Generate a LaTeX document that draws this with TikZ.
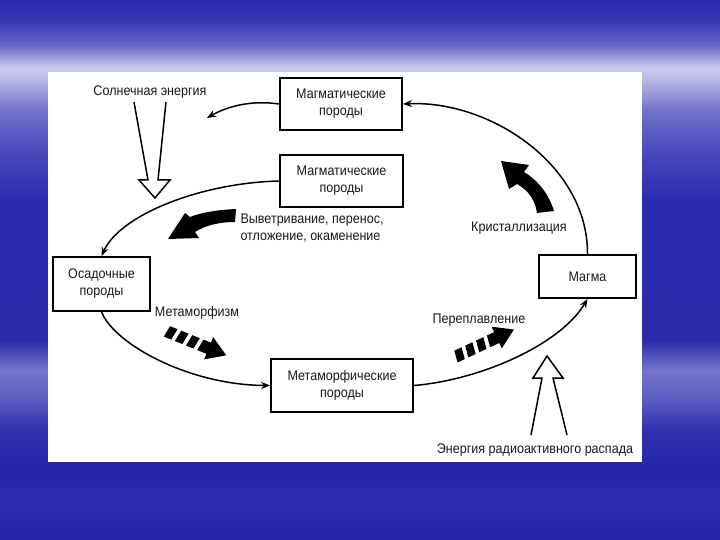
\documentclass[tikz,border=0pt]{standalone}
\usepackage{fontspec}
\setmainfont{Liberation Sans}[FakeStretch=0.9]
\usetikzlibrary{arrows.meta}
\usetikzlibrary{shapes,arrows,positioning}

% sky behind the sheet
\pgfdeclareverticalshading{sky}{100bp}{
  rgb(0bp)=(0.14,0.14,0.66);
  rgb(25bp)=(0.14,0.14,0.66);
  rgb(28.7bp)=(0.18,0.18,0.69);
  rgb(31.5bp)=(0.14,0.14,0.66);
  rgb(35.2bp)=(0.19,0.19,0.69);
  rgb(38bp)=(0.36,0.36,0.76);
  rgb(40.7bp)=(0.46,0.46,0.80);
  rgb(43.5bp)=(0.17,0.17,0.67);
  rgb(56.5bp)=(0.17,0.17,0.69);
  rgb(61.1bp)=(0.29,0.29,0.74);
  rgb(64.8bp)=(0.45,0.45,0.80);
  rgb(67.6bp)=(0.72,0.72,0.90);
  rgb(68.7bp)=(0.80,0.80,0.93);
  rgb(70.8bp)=(0.40,0.40,0.79);
  rgb(73.2bp)=(0.21,0.21,0.72);
  rgb(75bp)=(0.17,0.17,0.70);
  rgb(100bp)=(0.17,0.17,0.70)}

\tikzset{
  brokenarrow/.pic={
    \foreach \s in {0,12,24}
      \fill (\s+2,-6) -- (\s+10,-6) -- (\s+8,6) -- (\s,6) -- cycle;
    \fill (38,-6) -- (46,-6) -- (46,-12) -- (65,0) -- (46,12) -- (46,6) -- (36,6) -- cycle;
  }
}

\begin{document}
\begin{tikzpicture}[x=1bp,y=-1bp,
    every node/.style={font=\fontsize{14}{17}\selectfont, text=black!90},
    rock/.style={draw, line width=1.9bp, align=center, inner sep=0pt},
    flow/.style={line width=1.5bp, -{Stealth[length=9bp,width=7bp]}},
    hollow/.style={draw, line width=1.5bp, fill=white, line join=miter}]
  % the sky and the white sheet
  \shade[shading=sky] (0,0) rectangle (720,540);
  \fill[white] (48,72) rectangle (642,462);
  \useasboundingbox (0,0) rectangle (720,540);

  % the rocks
  \node[rock, minimum width=122bp, minimum height=52bp] (magmatic) at (341,104) {Магматические\\породы};
  \node[rock, minimum width=123bp, minimum height=52bp] (magmatic2) at (341.5,181) {Магматические\\породы};
  \node[rock, minimum width=97bp, minimum height=54bp] (sedimentary) at (101.5,284) {Осадочные\\породы};
  \node[rock, minimum width=142bp, minimum height=53bp] (metamorphic) at (342,385.5) {Метаморфические\\породы};
  \node[rock, minimum width=97bp, minimum height=43bp] (magma) at (587.5,276.5) {Магма};

  % the cycle
  \coordinate (sunside) at (207,118);
  \draw[flow] (magma.north) .. controls (588,165) and (490,100) .. (magmatic.east);
  \draw[flow] (magmatic.west) .. controls (252,100) and (228,106) .. (sunside);
  \draw[flow] (magmatic2.west) .. controls (200,183) and (120,215) .. (sedimentary.north);
  \draw[flow] (sedimentary.south) .. controls (115,345) and (190,385) .. (metamorphic.west);
  \draw[flow] (metamorphic.east) .. controls (480,380) and (560,345) .. (magma.south);

  % the labels
  \node (sun) at (150,92) {Солнечная энергия};
  \node (radio) at (535,450) {Энергия радиоактивного распада};
  \node[anchor=west, align=left] (weathering) at (237,228) {Выветривание, перенос,\\отложение, окаменение};
  \node (crystal) at (519,228) {Кристаллизация};
  \node (metamorphism) at (197,313) {Метаморфизм};
  \node (remelting) at (479,320) {Переплавление};

  % the energy arrows
  \draw[hollow] (134,102) -- (148,180) -- (139,180) -- (155,198) -- (170,180) -- (158,180) -- (166,102);
  \draw[hollow] (531,435) -- (542,378) -- (533,378) -- (547,356) -- (563,378) -- (553,378) -- (567,435);

  % the black process arrows
  \fill (236,209) .. controls (215,210) and (200,213) .. (190,217) -- (185,213) -- (168,239)
    -- (199,238) -- (195,232) .. controls (206,225) and (220,222) .. (235,222) -- cycle;
  \fill (537,213) .. controls (535,200) and (529,191) .. (517,184) -- (509,189) -- (501,161)
    -- (529,165) -- (524,172) .. controls (539,181) and (549,195) .. (554,211) -- cycle;
  \pic[rotate=-22] at (166,331) {brokenarrow};
  \pic[rotate=25] at (455,357) {brokenarrow};
\end{tikzpicture}
\end{document}
